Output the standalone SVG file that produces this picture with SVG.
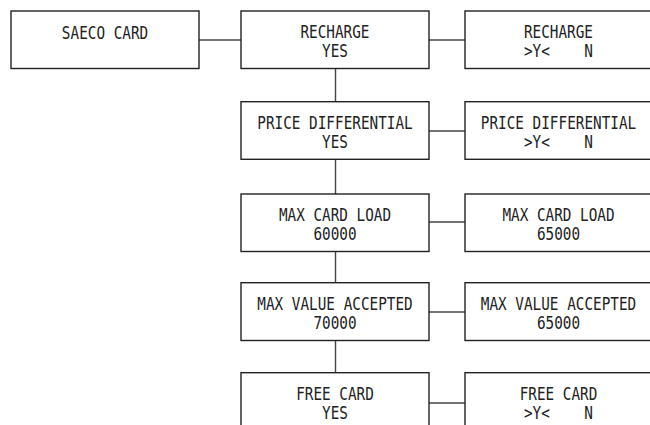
<svg xmlns="http://www.w3.org/2000/svg" width="650" height="425" viewBox="0 0 650 425">
<style>
.box{fill:#fff;stroke:#222;stroke-width:1.4}
.t{font-family:"DejaVu Sans Mono","Liberation Mono",monospace;font-size:17px;fill:#222;text-anchor:middle;white-space:pre}
.c{stroke:#444;stroke-width:1.4;fill:none}
</style>
<rect width="650" height="425" fill="#fff"/>
<g id="connectors">
<line class="c" x1="199" y1="40" x2="241" y2="40"/>
<line class="c" x1="429" y1="40" x2="465" y2="40"/>
<line class="c" x1="429" y1="131" x2="465" y2="131"/>
<line class="c" x1="429" y1="222" x2="465" y2="222"/>
<line class="c" x1="429" y1="312" x2="465" y2="312"/>
<line class="c" x1="429" y1="403" x2="465" y2="403"/>
<line class="c" x1="335.5" y1="68.5" x2="335.5" y2="101.7"/>
<line class="c" x1="335.5" y1="159.3" x2="335.5" y2="194"/>
<line class="c" x1="335.5" y1="251.5" x2="335.5" y2="282.7"/>
<line class="c" x1="335.5" y1="340.5" x2="335.5" y2="372.7"/>
</g>
<g id="saeco-card">
<rect class="box" x="11" y="11" width="188" height="57.5"/>
<text class="t" transform="translate(105,39) scale(0.843,1)">SAECO CARD</text>
</g>
<g id="recharge">
<rect class="box" x="241" y="11" width="188" height="57.5"/>
<text class="t" transform="translate(335,38.3) scale(0.843,1)">RECHARGE</text>
<text class="t" transform="translate(335,57.3) scale(0.843,1)">YES</text>
</g>
<g id="recharge-set">
<rect class="box" x="465" y="11" width="190" height="57.5"/>
<text class="t" transform="translate(558.5,38.3) scale(0.843,1)">RECHARGE</text>
<text class="t" transform="translate(558.5,57.3) scale(0.843,1)">&gt;Y&lt;    N</text>
</g>
<g id="price-differential">
<rect class="box" x="241" y="101.7" width="188" height="57.6"/>
<text class="t" transform="translate(335,129) scale(0.843,1)">PRICE DIFFERENTIAL</text>
<text class="t" transform="translate(335,148) scale(0.843,1)">YES</text>
</g>
<g id="price-differential-set">
<rect class="box" x="465" y="101.7" width="190" height="57.6"/>
<text class="t" transform="translate(558.5,129) scale(0.843,1)">PRICE DIFFERENTIAL</text>
<text class="t" transform="translate(558.5,148) scale(0.843,1)">&gt;Y&lt;    N</text>
</g>
<g id="max-card-load">
<rect class="box" x="241" y="194" width="188" height="57.5"/>
<text class="t" transform="translate(335,221.3) scale(0.843,1)">MAX CARD LOAD</text>
<text class="t" transform="translate(335,240.3) scale(0.843,1)">60000</text>
</g>
<g id="max-card-load-set">
<rect class="box" x="465" y="194" width="190" height="57.5"/>
<text class="t" transform="translate(558.5,221.3) scale(0.843,1)">MAX CARD LOAD</text>
<text class="t" transform="translate(558.5,240.3) scale(0.843,1)">65000</text>
</g>
<g id="max-value-accepted">
<rect class="box" x="241" y="282.7" width="188" height="57.8"/>
<text class="t" transform="translate(335,310) scale(0.843,1)">MAX VALUE ACCEPTED</text>
<text class="t" transform="translate(335,329) scale(0.843,1)">70000</text>
</g>
<g id="max-value-accepted-set">
<rect class="box" x="465" y="282.7" width="190" height="57.8"/>
<text class="t" transform="translate(558.5,310) scale(0.843,1)">MAX VALUE ACCEPTED</text>
<text class="t" transform="translate(558.5,329) scale(0.843,1)">65000</text>
</g>
<g id="free-card">
<rect class="box" x="241" y="372.7" width="188" height="60"/>
<text class="t" transform="translate(335,400) scale(0.843,1)">FREE CARD</text>
<text class="t" transform="translate(335,419) scale(0.843,1)">YES</text>
</g>
<g id="free-card-set">
<rect class="box" x="465" y="372.7" width="190" height="60"/>
<text class="t" transform="translate(558.5,400) scale(0.843,1)">FREE CARD</text>
<text class="t" transform="translate(558.5,419) scale(0.843,1)">&gt;Y&lt;    N</text>
</g>
</svg>
